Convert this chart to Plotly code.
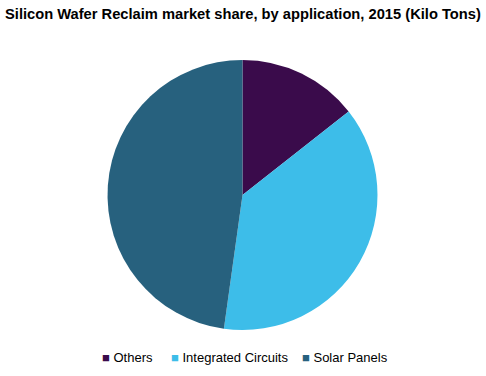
import plotly.graph_objects as go

categories = ["Others", "Integrated Circuits", "Solar Panels"]
shares = [14.4, 37.8, 47.8]
colors = ["#3a0b4b", "#3dbde9", "#27617e"]

W, H = 486, 376
legend_x_px = [100, 169, 300]

fig = go.Figure()
fig.add_trace(go.Pie(
    labels=categories,
    values=shares,
    sort=False,
    direction="clockwise",
    rotation=0,
    textinfo="none",
    hoverinfo="label+value",
    marker=dict(colors=colors, line=dict(width=0)),
    domain=dict(x=[107 / W, 378 / W], y=[1 - 330 / H, 1 - 60 / H]),
    showlegend=False,
))

annotations = []
for name, col, xp in zip(categories, colors, legend_x_px):
    annotations.append(dict(
        xref="paper", yref="paper",
        x=xp / W, xanchor="left",
        y=1 - 357 / H, yanchor="middle",
        showarrow=False,
        text=f'<span style="color:{col};font-size:13px">■</span> {name}',
        font=dict(size=13, color="#000000"),
    ))

fig.update_layout(
    width=W, height=H,
    margin=dict(l=0, r=0, t=0, b=0),
    paper_bgcolor="white",
    plot_bgcolor="white",
    font=dict(family="Liberation Sans, Arial, sans-serif", size=13, color="#000000"),
    title=dict(
        text="<b>Silicon Wafer Reclaim market share, by application, 2015 (Kilo Tons)</b>",
        x=5 / W, xanchor="left",
        y=1 - 14 / H, yanchor="middle",
        font=dict(size=14.7, color="#000000"),
    ),
    annotations=annotations,
)

fig.write_html("out.html")
